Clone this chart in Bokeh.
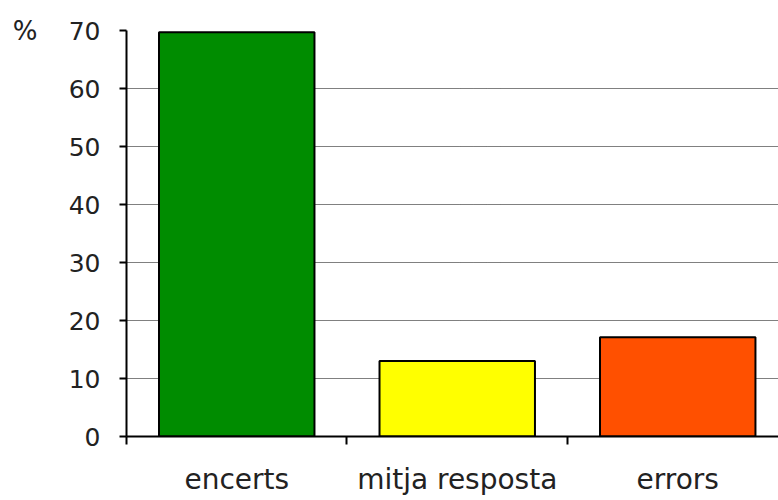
from bokeh.plotting import figure
from bokeh.models import ColumnDataSource, FixedTicker, Range1d, LinearAxis
from bokeh.embed import file_html
from bokeh.resources import INLINE

categories = ["encerts", "mitja resposta", "errors"]
values = [69.7, 13.0, 17.1]
colors = ["#008c00", "#ffff00", "#ff5000"]
y_ticks = [0, 10, 20, 30, 40, 50, 60, 70]
unit_label = "%"

xpos = [i + 0.5 for i in range(len(categories))]
src = ColumnDataSource(dict(x=xpos, top=values, color=colors))

p = figure(width=778, height=498, output_backend="svg", toolbar_location=None,
           x_range=Range1d(0, 2.957), y_range=Range1d(0, 70),
           min_border_left=126, min_border_right=0, min_border_top=30,
           min_border_bottom=58)
p.outline_line_color = None

p.vbar(x="x", top="top", bottom=0, width=0.705, fill_color="color",
       line_color="black", line_width=2, source=src)

FONT = "DejaVu Sans"

# y axis
p.yaxis.ticker = FixedTicker(ticks=y_ticks)
p.yaxis.axis_line_width = 2
p.yaxis.axis_line_color = "black"
p.yaxis.major_tick_line_width = 2
p.yaxis.major_tick_line_color = "black"
p.yaxis.major_tick_out = 7
p.yaxis.major_tick_in = 0
p.yaxis.minor_tick_line_color = None
p.yaxis.major_label_text_font = FONT
p.yaxis.major_label_text_font_size = "25px"
p.yaxis.major_label_text_color = "#222222"
p.yaxis.major_label_standoff = 19

# unit label as an extra left axis with a single tick at the top
top_tick = max(y_ticks)
unit_axis = LinearAxis(ticker=FixedTicker(ticks=[top_tick]),
                       major_label_overrides={top_tick: unit_label},
                       axis_line_color=None, major_tick_line_color=None,
                       minor_tick_line_color=None,
                       major_label_text_font=FONT,
                       major_label_text_font_size="26px",
                       major_label_text_color="#222222",
                       major_label_standoff=22)
p.add_layout(unit_axis, "left")

# x axis
p.xaxis.ticker = FixedTicker(ticks=xpos, minor_ticks=list(range(len(categories) + 1)))
p.xaxis.major_label_overrides = {x: c for x, c in zip(xpos, categories)}
p.xaxis.axis_line_width = 2
p.xaxis.axis_line_color = "black"
p.xaxis.major_tick_out = 0
p.xaxis.major_tick_in = 0
p.xaxis.minor_tick_out = 8
p.xaxis.minor_tick_in = 0
p.xaxis.minor_tick_line_width = 2
p.xaxis.minor_tick_line_color = "black"
p.xaxis.major_label_text_font = FONT
p.xaxis.major_label_text_font_size = "28px"
p.xaxis.major_label_text_color = "#222222"
p.xaxis.major_label_standoff = 18

p.xgrid.grid_line_color = None
p.ygrid.ticker = FixedTicker(ticks=y_ticks)
p.ygrid.grid_line_color = "#000000"
p.ygrid.grid_line_dash = "1 1"
p.ygrid.grid_line_width = 1

open("out.html", "w").write(file_html(p, INLINE))
